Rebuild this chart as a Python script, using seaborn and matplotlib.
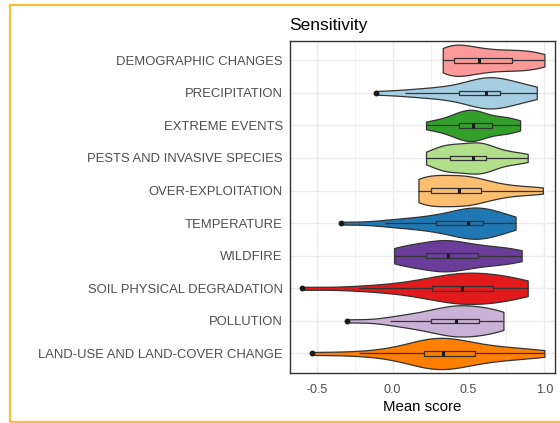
import pandas as pd
import matplotlib
matplotlib.use("Agg")
import matplotlib.pyplot as plt
from matplotlib.patches import Rectangle
import seaborn as sns

# Hazard categories, top to bottom
categories = [
    "DEMOGRAPHIC CHANGES",
    "PRECIPITATION",
    "EXTREME EVENTS",
    "PESTS AND INVASIVE SPECIES",
    "OVER-EXPLOITATION",
    "TEMPERATURE",
    "WILDFIRE",
    "SOIL PHYSICAL DEGRADATION",
    "POLLUTION",
    "LAND-USE AND LAND-COVER CHANGE",
]

# Mean sensitivity scores per hazard
demographic = [0.33, 0.34, 0.35, 0.37, 0.38, 0.39, 0.41, 0.44, 0.47, 0.50, 0.53, 0.56,
               0.58, 0.62, 0.66, 0.70, 0.74, 0.78, 0.81, 0.85, 0.89, 0.93, 0.97, 1.00]
precipitation = [-0.11, 0.08, 0.18, 0.26, 0.33, 0.40, 0.45, 0.50, 0.54, 0.57, 0.60, 0.61,
                 0.62, 0.64, 0.66, 0.68, 0.69, 0.70, 0.74, 0.79, 0.84, 0.88, 0.92, 0.95]
extreme_events = [0.22, 0.26, 0.32, 0.37, 0.40, 0.42, 0.44, 0.46, 0.48, 0.50, 0.51, 0.52,
                  0.54, 0.55, 0.56, 0.58, 0.60, 0.65, 0.68, 0.71, 0.74, 0.77, 0.80, 0.84]
pests = [0.22, 0.26, 0.30, 0.33, 0.35, 0.36, 0.38, 0.40, 0.43, 0.46, 0.49, 0.52,
         0.54, 0.55, 0.57, 0.59, 0.60, 0.61, 0.64, 0.68, 0.73, 0.78, 0.84, 0.89]
over_exploitation = [0.17, 0.17, 0.19, 0.21, 0.23, 0.24, 0.26, 0.30, 0.33, 0.37, 0.41, 0.43,
                     0.44, 0.46, 0.49, 0.52, 0.55, 0.57, 0.61, 0.66, 0.72, 0.80, 0.90, 0.99]
temperature = [-0.34, -0.05, 0.03, 0.12, 0.20, 0.26, 0.29, 0.34, 0.40, 0.44, 0.48, 0.49,
               0.50, 0.52, 0.54, 0.56, 0.58, 0.59, 0.62, 0.65, 0.68, 0.72, 0.76, 0.81]
wildfire = [0.01, 0.02, 0.06, 0.10, 0.15, 0.19, 0.23, 0.26, 0.29, 0.32, 0.35, 0.36,
            0.37, 0.40, 0.44, 0.48, 0.52, 0.55, 0.60, 0.65, 0.70, 0.75, 0.80, 0.85]
soil_degradation = [-0.60, -0.22, -0.05, 0.08, 0.16, 0.23, 0.27, 0.32, 0.37, 0.41, 0.44, 0.45,
                    0.47, 0.50, 0.54, 0.58, 0.62, 0.65, 0.69, 0.73, 0.77, 0.81, 0.85, 0.89]
pollution = [-0.30, -0.02, 0.05, 0.12, 0.18, 0.23, 0.26, 0.31, 0.34, 0.37, 0.40, 0.41,
             0.43, 0.45, 0.48, 0.51, 0.54, 0.56, 0.60, 0.64, 0.67, 0.70, 0.72, 0.73]
land_use = [-0.53, -0.22, -0.04, 0.06, 0.13, 0.19, 0.21, 0.24, 0.27, 0.29, 0.31, 0.32,
            0.34, 0.36, 0.39, 0.43, 0.48, 0.53, 0.58, 0.65, 0.72, 0.80, 0.90, 1.00]

scores = [demographic, precipitation, extreme_events, pests, over_exploitation,
          temperature, wildfire, soil_degradation, pollution, land_use]

# ColorBrewer "Paired" fills
colors = ["#FB9A99", "#A6CEE3", "#33A02C", "#B2DF8A", "#FDBF6F",
          "#1F78B4", "#6A3D9A", "#E31A1C", "#CAB2D6", "#FF7F00"]

x_ticks = [-0.5, 0.0, 0.5, 1.0]
x_minor = [-0.25, 0.25, 0.75]

df = pd.concat(
    [pd.DataFrame({"Hazard": c, "Mean score": v}) for c, v in zip(categories, scores)],
    ignore_index=True,
)

sns.set_theme(style="white")
plt.rcParams["font.family"] = ["Liberation Sans", "DejaVu Sans"]

W, H = 560, 423
fig = plt.figure(figsize=(W / 100, H / 100), dpi=100)
left, right, top, bottom = 289.5, 555.0, 40.7, 373.0
ax = fig.add_axes([left / W, 1 - bottom / H, (right - left) / W, (bottom - top) / H])

sns.violinplot(
    data=df, x="Mean score", y="Hazard", hue="Hazard",
    order=categories, hue_order=categories, palette=colors,
    cut=0, inner=None, density_norm="area", width=0.96,
    linewidth=0.9, linecolor="#333333", bw_method="silverman", bw_adjust=0.85,
    saturation=1, legend=False, ax=ax, zorder=2,
)
sns.boxplot(
    data=df, x="Mean score", y="Hazard", order=categories,
    width=0.14, fill=False, color="#333333", linewidth=0.9,
    whis=1.5, showcaps=False,
    flierprops=dict(marker="o", markersize=3.2,
                    markerfacecolor="#1a1a1a", markeredgecolor="#1a1a1a"),
    medianprops=dict(linewidth=2.2, color="#1a1a1a"),
    ax=ax, zorder=3,
)

ax.set_xlim(-0.68, 1.07)
ax.set_ylim(len(categories) - 0.4, -0.6)
ax.set_xticks(x_ticks)
ax.set_xticklabels(["-0.5", "0.0", "0.5", "1.0"])
ax.set_xticks(x_minor, minor=True)

ax.set_axisbelow(True)
ax.grid(which="major", axis="both", color="#EBEBEB", linewidth=1.0)
ax.grid(which="minor", axis="x", color="#F2F2F2", linewidth=0.7)

for s in ax.spines.values():
    s.set_visible(True)
    s.set_color("#333333")
    s.set_linewidth(1.0)

ax.tick_params(axis="both", which="major", length=2.6, width=0.8,
               color="#333333", labelcolor="#4D4D4D")
ax.tick_params(axis="y", labelsize=9.35, pad=2.2)
ax.tick_params(axis="x", labelsize=9.0, pad=5)
ax.tick_params(which="minor", length=0)

ax.set_ylabel("")
ax.set_xlabel("Mean score", fontsize=10.8, color="black", labelpad=3.5)
ax.set_title("Sensitivity", loc="left", fontsize=12.5, color="black", pad=7.7)

# Outer frame around the figure
fig.patches.append(Rectangle(
    (10 / W, 1 - 421.5 / H), 1.2, (421.5 - 5.5) / H,
    transform=fig.transFigure, fill=False,
    edgecolor="#FBBD35", linewidth=1.6, zorder=10,
))

fig.savefig("out.png", dpi=100)
